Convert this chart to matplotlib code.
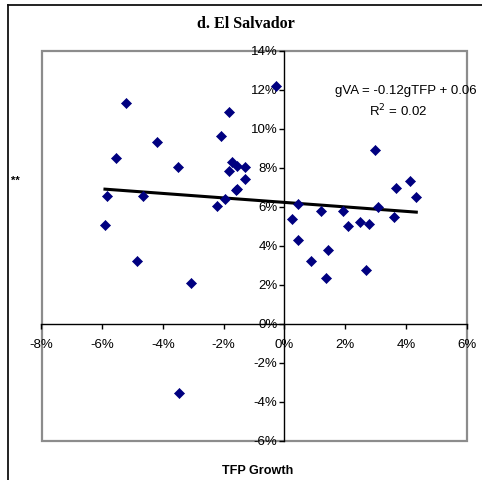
import matplotlib
matplotlib.use("Agg")
import matplotlib.pyplot as plt
from matplotlib.lines import Line2D
from matplotlib.patches import Rectangle
import numpy as np

# Data (percent): TFP growth (x) vs value-added growth (y)
tfp_growth = [-0.27, -5.23, -1.82, -2.08, -4.21, -5.54, -3.52, -1.73, -1.56, -1.30,
              -1.82, -1.30, -1.60, -1.55, -5.83, -5.91, -4.66, -4.85, -3.08, -2.23,
              -1.96, -3.47, 0.24, 0.44, 0.44, 0.86, 1.20, 1.44, 1.38, 1.94,
              2.08, 2.50, 2.67, 2.78, 3.09, 3.62, 3.66, 4.13, 4.34, 2.99]
va_growth = [12.18, 11.32, 10.87, 9.59, 9.30, 8.47, 8.01, 8.30, 8.10, 8.01,
             7.82, 7.41, 6.83, 6.91, 6.52, 5.06, 6.55, 3.22, 2.09, 6.04,
             6.38, -3.57, 5.35, 6.12, 4.27, 3.21, 5.78, 3.79, 2.33, 5.78,
             5.01, 5.20, 2.73, 5.11, 5.99, 5.46, 6.96, 7.32, 6.47, 8.88]

trend_slope = -0.115
trend_intercept = 6.21

x_ticks = [-8, -6, -4, -2, 0, 2, 4, 6]
y_ticks = [-6, -4, -2, 0, 2, 4, 6, 8, 10, 12, 14]
x_tick_labels = ["-8%", "-6%", "-4%", "-2%", "0%", "2%", "4%", "6%"]
y_tick_labels = ["-6%", "-4%", "-2%", "0%", "2%", "4%", "6%", "8%", "10%", "12%", "14%"]

title = "d. El Salvador"
x_label = "TFP Growth"
equation = "gVA = -0.12gTFP + 0.06"
r2_text = "R$^2$ = 0.02"

plt.rcParams['font.family'] = ['Liberation Sans', 'DejaVu Sans']

fig = plt.figure(figsize=(4.82, 4.80), dpi=100)
W, H = 482, 480
ax = fig.add_axes([41.5 / W, 1 - 440.5 / H, (466.7 - 41.5) / W, (440.5 - 50.5) / H])

ax.set_xlim(-8, 6)
ax.set_ylim(-6, 14)

ax.scatter(tfp_growth, va_growth, marker='D', s=26, color='#000080',
           edgecolors='#000080', linewidths=0.5, zorder=4)

x_line = np.array([min(tfp_growth), max(tfp_growth)])
ax.plot(x_line, trend_intercept + trend_slope * x_line, color='black', lw=2.2, zorder=3)

for s in ['top', 'right']:
    ax.spines[s].set_visible(False)
for s in ['left', 'bottom']:
    ax.spines[s].set_position(('data', 0))
    ax.spines[s].set_color('black')
    ax.spines[s].set_linewidth(1.0)
    ax.spines[s].set_zorder(2)

ax.add_patch(Rectangle((0, 0), 1, 1, transform=ax.transAxes, fill=False,
                       edgecolor='#8c8c8c', lw=1.6, clip_on=False, zorder=1))

ax.set_xticks(x_ticks)
ax.set_xticklabels(x_tick_labels)
ax.set_yticks(y_ticks)
ax.set_yticklabels(y_tick_labels)
ax.tick_params(axis='x', direction='out', length=3.5, width=1, pad=8, labelsize=9.5, colors='black')
ax.tick_params(axis='y', direction='out', length=3.5, width=1, pad=1.5, labelsize=9.5, colors='black')

ax.text(4.0, 11.9, equation, ha='center', va='center', fontsize=9.5)
ax.text(3.75, 10.9, r2_text, ha='center', va='center', fontsize=9.5)

fig.text(246 / W, 1 - 23.5 / H, title, ha='center', va='center', fontsize=11.6,
         fontweight='bold', family=['Liberation Serif', 'DejaVu Serif'])
fig.text(257.5 / W, 1 - 471.5 / H, x_label, ha='center', va='center', fontsize=9.1,
         fontweight='bold')
fig.text(15 / W, 1 - 181 / H, "**", ha='center', va='center', fontsize=8, fontweight='bold')

# outer partial frame (top and left edges)
fig.add_artist(Line2D([7.5 / W, 1], [1 - 5 / H, 1 - 5 / H], transform=fig.transFigure,
                      color='#111111', lw=1.3))
fig.add_artist(Line2D([7.5 / W, 7.5 / W], [1 - 5 / H, 0], transform=fig.transFigure,
                      color='#111111', lw=1.3))

fig.savefig("out.png", dpi=100)
